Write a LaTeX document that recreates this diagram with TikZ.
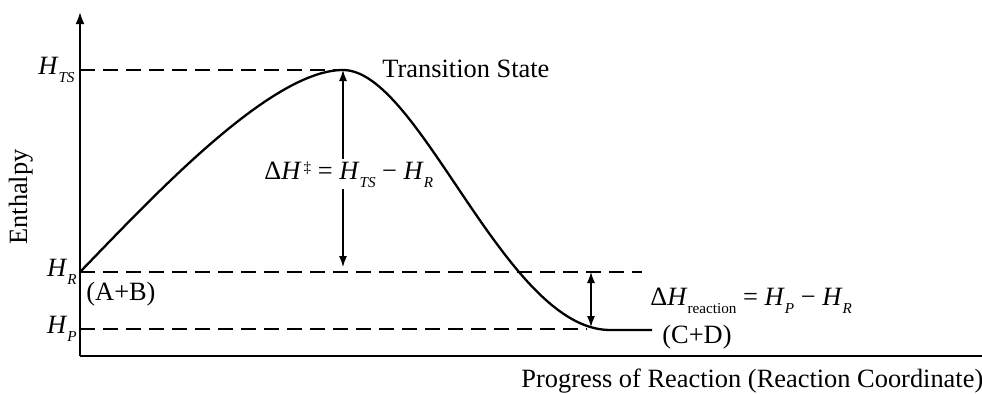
\documentclass[tikz,border=0pt]{standalone}
\usepackage{fontspec}
\setmainfont{Liberation Serif}
\usetikzlibrary{arrows.meta,positioning,calc}
\newcommand{\subfont}{\fontsize{7.6}{7.6}\selectfont}
\newcommand{\Hsub}[1]{\textit{H}\raisebox{-4pt}{\subfont\itshape #1}}

\begin{document}
\begin{tikzpicture}[x=5pt,y=5pt,font=\fontsize{13.2}{15}\selectfont,
  every node/.style={inner sep=0pt},
  axis/.style={line width=1pt},
  level/.style={line width=0.8pt,dash pattern=on 7.5pt off 4pt},
  gap/.style={line width=0.6pt,{Latex[length=5.5pt,width=4pt]}-{Latex[length=5.5pt,width=4pt]}}]
\useasboundingbox (0,0) rectangle (98.2,39.3);
\coordinate (O) at (8,3.7);
\coordinate (ytop) at (8,38.1);
\coordinate (xend) at (98.2,3.7);
\coordinate (hts) at (8,32.3);
\coordinate (hr) at (8,12.1);
\coordinate (hp) at (8,6.4);
\coordinate (peak) at (34.3,32.3);
\coordinate (peakfoot) at (34.3,12.6);
\coordinate (hrend) at (64.2,12.1);
\coordinate (hpend) at (58.7,6.4);
\coordinate (dtop) at (59.1,12.1);
\coordinate (dbot) at (59.1,6.6);
\coordinate (prod) at (65.2,6.3);

\draw[axis,-{Latex[length=6pt,width=4.5pt]}] (O) -- (ytop);
\draw[axis] (O) -- (xend);
\draw[level] (hts) -- (peak);
\draw[level] (hr) -- (hrend);
\draw[level] (hp) -- (hpend);
\draw[line width=1.15pt] (hr) .. controls (15,19.3) and (27,32.3) .. (peak)
  .. controls (42,32.3) and (50.5,6.3) .. (61,6.3) -- (prod);
\draw[gap] (peak) -- (peakfoot);
\draw[gap] (dtop) -- (dbot);

\node[anchor=base east] (lts) at (7.5,31.9) {\Hsub{TS}};
\node[anchor=base east] (lr) at (7.7,11.7) {\Hsub{R}};
\node[anchor=base east] (lp) at (7.7,6.0) {\Hsub{P}};
\node[anchor=base west] (ab) at (8.6,9.3) {(A+B)};
\node[anchor=base west] (cd) at (66.2,5.0) {(C+D)};
\node[anchor=base west] (ts) at (38.2,31.6) {Transition State};
\node[anchor=base west,fill=white,inner sep=1pt] (act) at (26.2,21.4)
  {Δ\textit{H}\kern1pt\raisebox{3.5pt}{\subfont ‡} = \Hsub{TS} − \Hsub{R}};
\node[anchor=base west] (rxn) at (65,8.8)
  {Δ\textit{H}\raisebox{-4pt}{\subfont reaction} = \Hsub{P} − \Hsub{R}};
\node[anchor=base west] (xlab) at (52.1,0.6) {Progress of Reaction (Reaction Coordinate)};
\node[rotate=90,anchor=base] (ylab) at (2.7,19.6) {Enthalpy};
\end{tikzpicture}
\end{document}
